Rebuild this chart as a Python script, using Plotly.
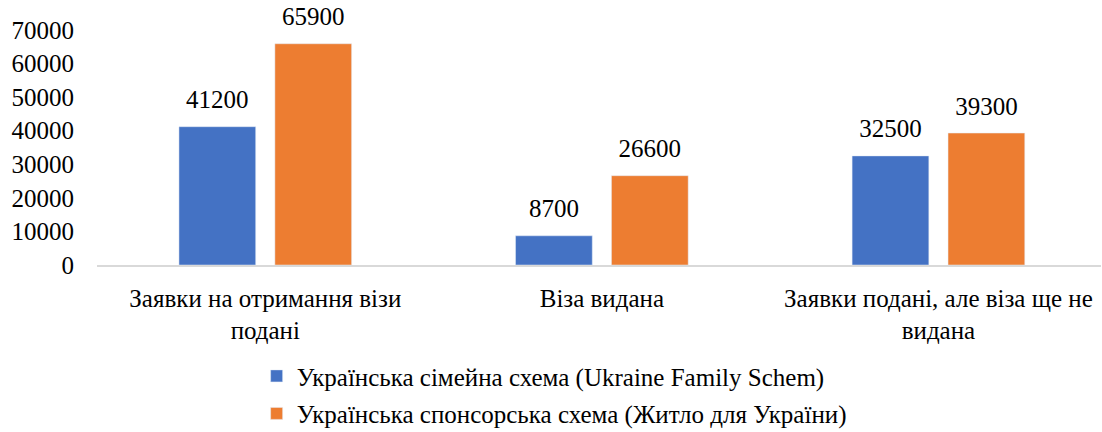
import plotly.graph_objects as go

categories = ["Заявки на отримання візи подані", "Віза видана", "Заявки подані, але віза ще не видана"]
tick_labels = ["Заявки на отримання візи<br>подані", "Віза видана", "Заявки подані, але віза ще не<br>видана"]
series_names = ["Українська сімейна схема (Ukraine Family Schem)",
                "Українська спонсорська схема (Житло для України)"]
family_values = [41200, 8700, 32500]
sponsor_values = [65900, 26600, 39300]
y_ticks = [0, 10000, 20000, 30000, 40000, 50000, 60000, 70000]

FONT = "Times New Roman, Liberation Serif, DejaVu Serif, serif"
colors = ["#4472C4", "#ED7D31"]

fig = go.Figure()
for i, (vals, grp) in enumerate([(family_values, "a"), (sponsor_values, "b")]):
    fig.add_trace(go.Bar(x=categories, y=vals, name=series_names[i],
                         marker_color=colors[i], offsetgroup=grp, legendgroup=grp))
for i, (vals, grp) in enumerate([(family_values, "a"), (sponsor_values, "b")]):
    fig.add_trace(go.Scatter(x=categories, y=vals, mode="markers+text", text=[str(v) for v in vals],
                             textposition="top center", offsetgroup=grp, showlegend=False,
                             marker=dict(size=18, opacity=0), cliponaxis=False,
                             textfont=dict(size=25, color="#000000", family=FONT),
                             hoverinfo="skip"))

fig.update_layout(
    width=1102, height=432,
    margin=dict(l=97, r=1, t=30, b=167, autoexpand=False),
    paper_bgcolor="white", plot_bgcolor="white",
    font=dict(family=FONT, size=25, color="#000000"),
    barmode="group", bargap=0.43, bargroupgap=0.2,
    scattermode="group", scattergap=0.43,
    showlegend=True,
    legend=dict(orientation="v", x=0.159, xanchor="left", xref="paper",
                y=-0.375, yanchor="top", traceorder="grouped", tracegroupgap=2,
                font=dict(size=25, family=FONT, color="#000000"),
                itemwidth=30, bgcolor="rgba(0,0,0,0)"),
)
fig.update_xaxes(type="category", tickmode="array", tickvals=categories, ticktext=tick_labels,
                 range=[-0.5, 2.483], showline=True, linecolor="#D9D9D9", linewidth=1.5,
                 ticks="", showgrid=False, ticklabelstandoff=10,
                 tickfont=dict(size=25, family=FONT, color="#000000"))
fig.update_yaxes(range=[0, 70000], tickmode="array", tickvals=y_ticks,
                 ticktext=[str(v) for v in y_ticks], showgrid=False, zeroline=False,
                 showline=False, ticks="", ticklabelstandoff=22,
                 tickfont=dict(size=25, family=FONT, color="#000000"))

fig.write_html("out.html", config={"displayModeBar": False},
               post_script="document.body.style.margin='0';")
